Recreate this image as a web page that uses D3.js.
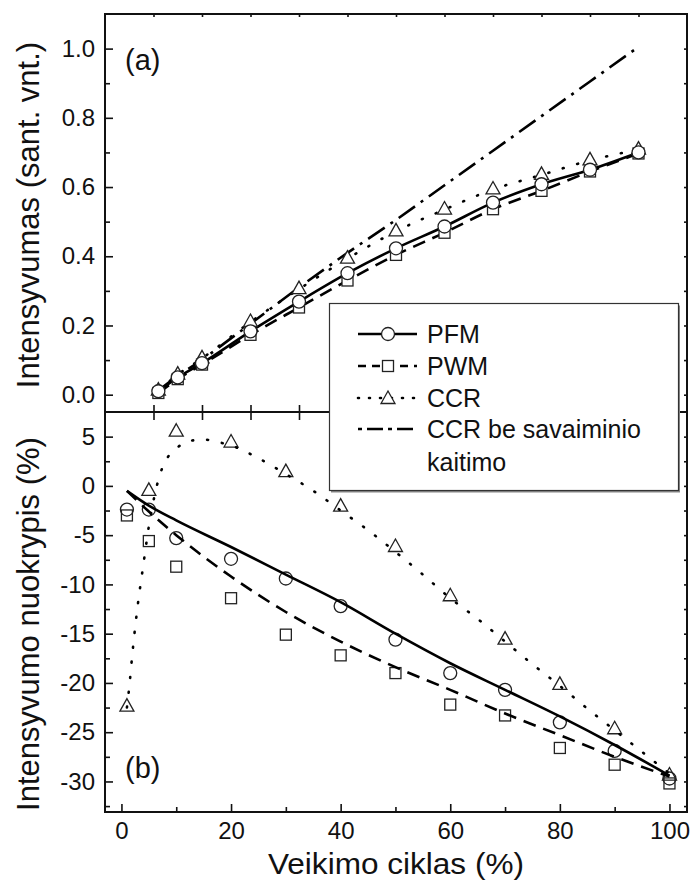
<!DOCTYPE html>
<html>
<head>
<meta charset="utf-8">
<script src="https://cdn.jsdelivr.net/npm/d3@7"></script>
<style>
  body { margin: 0; background: #fff; }
  text { font-family: "Liberation Sans", Arial, sans-serif; fill: #111; }
</style>
</head>
<body>
<svg width="694" height="887"></svg>
<script>
// panel (a) - intensity vs. cycle step
var aCycle = [1.1, 1.5, 2, 3, 4, 5, 6, 7, 8, 9, 10, 11]
var aPfm = [0.010, 0.050, 0.091, 0.183, 0.269, 0.351, 0.423, 0.486, 0.555, 0.608, 0.650, 0.700]
var aPwm = [0.005, 0.045, 0.087, 0.173, 0.252, 0.330, 0.404, 0.468, 0.536, 0.589, 0.645, 0.697]
var aCcr = [0.012, 0.058, 0.105, 0.210, 0.305, 0.393, 0.472, 0.535, 0.593, 0.635, 0.677, 0.708]
var aCcrNoHeat = [0.012, 0.055, 0.100, 0.205, 0.310, 0.410, 0.505, 0.605, 0.705, 0.805, 0.905, 1.005]

// panel (b) - deviation of intensity (%)
var bCycle = [1, 5, 10, 20, 30, 40, 50, 60, 70, 80, 90, 100]
var bPfm = [-2.4, -2.4, -5.3, -7.4, -9.4, -12.2, -15.6, -19.0, -20.7, -24.0, -26.9, -29.7]
var bPwm = [-3.0, -5.6, -8.2, -11.4, -15.1, -17.2, -19.0, -22.2, -23.3, -26.6, -28.3, -30.2]
var bCcr = [-22.4, -0.5, 5.5, 4.4, 1.4, -2.1, -6.2, -11.2, -15.6, -20.2, -24.7, -29.4]
var pfmFit = [-0.5, -2.0, -3.5, -6.2, -9.0, -11.8, -15.0, -18.0, -20.7, -23.4, -26.3, -29.4]
var pwmFit = [-0.5, -2.6, -5.0, -9.2, -12.8, -15.8, -18.4, -20.7, -23.1, -25.3, -27.5, -29.5]
var ccrFitX = [1, 1.5, 2, 3, 4, 5, 6, 7, 8, 9, 10, 12, 15, 18, 20, 25, 30, 35, 40, 45, 50, 55, 60, 65, 70, 75, 80, 85, 90, 95, 100]
var ccrFit = [-22.5, -20, -17, -12, -8, -4.1, -1.1, 1.1, 2.5, 3.3, 3.8, 4.5, 4.7, 4.4, 4.1, 2.8, 1.2, -0.5, -2.5, -4.5, -6.7, -9.0, -11.4, -13.5, -15.8, -18.1, -20.3, -22.6, -24.8, -27.0, -29.2]

var xTicks = [0, 20, 40, 60, 80, 100]
var aYTicks = [0.0, 0.2, 0.4, 0.6, 0.8, 1.0]
var bYTicks = [5, 0, -5, -10, -15, -20, -25, -30]

var legendNames = ["PFM", "PWM", "CCR", "CCR be savaiminio", "kaitimo"]

var svg = d3.select("svg")
var L = 105, R = 687, T = 14, M = 412, B = 812

var xA = d3.scaleLinear().domain([0, 12]).range([L, R])
var xB = d3.scaleLinear().domain([-3, 103.2]).range([L, R])
var yA = d3.scaleLinear().domain([-0.05, 1.1]).range([M, T])
var yB = d3.scaleLinear().domain([-33.1, 7.5]).range([B, M])

var SOLID = null, DASH = "13,8", DOT = "1,14", DASHDOT = "20,7,3,7"

function styleAxis(g) {
    g.select(".domain").remove()
    g.selectAll("line").attr("stroke", "#111").attr("stroke-width", 1.6)
    g.selectAll("text").style("font-size", "24px").attr("fill", "#111")
        .style("font-family", "'Liberation Sans', Arial, sans-serif")
}

// left axes
svg.append("g").attr("transform", "translate(" + L + ",0)")
    .call(d3.axisLeft(yA).tickValues(aYTicks).tickSize(-8).tickPadding(10).tickFormat(d3.format(".1f")))
    .call(styleAxis)
svg.append("g").attr("transform", "translate(" + L + ",0)")
    .call(d3.axisLeft(yA).tickValues([0.1, 0.3, 0.5, 0.7, 0.9]).tickSize(-5).tickFormat(""))
    .call(styleAxis)
svg.append("g").attr("transform", "translate(" + L + ",0)")
    .call(d3.axisLeft(yB).tickValues(bYTicks).tickSize(-8).tickPadding(10).tickFormat(d => String(d)))
    .call(styleAxis)
svg.append("g").attr("transform", "translate(" + L + ",0)")
    .call(d3.axisLeft(yB).tickValues([2.5, -2.5, -7.5, -12.5, -17.5, -22.5, -27.5, -32.5]).tickSize(-5).tickFormat(""))
    .call(styleAxis)

// right axes (short ticks)
svg.append("g").attr("transform", "translate(" + R + ",0)")
    .call(d3.axisRight(yA).tickValues(d3.range(0, 11).map(d => d / 10)).tickSize(-3).tickFormat(""))
    .call(styleAxis)
svg.append("g").attr("transform", "translate(" + R + ",0)")
    .call(d3.axisRight(yB).tickValues(d3.range(-32.5, 7.5, 2.5)).tickSize(-3).tickFormat(""))
    .call(styleAxis)

// bottom x axis
svg.append("g").attr("transform", "translate(0," + B + ")")
    .call(d3.axisBottom(xB).tickValues(xTicks).tickSize(-8).tickPadding(10))
    .call(styleAxis)
svg.append("g").attr("transform", "translate(0," + B + ")")
    .call(d3.axisBottom(xB).tickValues([10, 30, 50, 70, 90]).tickSize(-5).tickFormat(""))
    .call(styleAxis)

// panel (a) top and bottom ticks
svg.append("g").attr("transform", "translate(0," + T + ")")
    .call(d3.axisTop(xA).tickValues(d3.range(1, 12)).tickSize(-3).tickFormat(""))
    .call(styleAxis)
svg.append("g").attr("transform", "translate(0," + M + ")")
    .call(d3.axisBottom(xA).tickValues(d3.range(1, 12)).tickSize(8).tickFormat(""))
    .call(styleAxis)
svg.append("g").attr("transform", "translate(0," + M + ")")
    .call(d3.axisBottom(xA).tickValues(d3.range(1, 12)).tickSize(-7).tickFormat(""))
    .call(styleAxis)

// frames
svg.append("rect").attr("x", L).attr("y", T).attr("width", R - L).attr("height", B - T)
    .attr("fill", "none").attr("stroke", "#111").attr("stroke-width", 2)
svg.append("line").attr("x1", L).attr("x2", R).attr("y1", M).attr("y2", M)
    .attr("stroke", "#111").attr("stroke-width", 2)

// line helper
function drawLine(xs, ys, xs_, ys_, dash, curve) {
    var pts = xs.map((d, i) => [d, ys[i]])
    var line = d3.line().x(d => xs_(d[0])).y(d => ys_(d[1])).curve(curve || d3.curveMonotoneX)
    svg.append("path").datum(pts).attr("d", line)
        .attr("fill", "none").attr("stroke", "#000").attr("stroke-width", 2.6)
        .attr("stroke-dasharray", dash)
        .attr("stroke-linecap", dash === DOT ? "round" : "butt")
}

var triPath = "M0,-8L7,4.5L-7,4.5Z"
function drawMarkers(xs, ys, xs_, ys_, kind, fill) {
    var g = svg.append("g")
    xs.forEach(function(d, i) {
        var px = xs_(d), py = ys_(ys[i])
        var m
        if (kind === "circle") m = g.append("circle").attr("cx", px).attr("cy", py).attr("r", 6.5)
        else if (kind === "square") m = g.append("rect").attr("x", px - 5.5).attr("y", py - 5.5).attr("width", 11).attr("height", 11)
        else m = g.append("path").attr("d", triPath).attr("transform", "translate(" + px + "," + py + ")")
        m.attr("fill", fill).attr("stroke", "#222").attr("stroke-width", 1.3)
    })
}

// panel (a)
drawLine(aCycle, aCcrNoHeat, xA, yA, DASHDOT, d3.curveLinear)
drawLine(aCycle, aCcr, xA, yA, DOT)
drawLine(aCycle, aPwm, xA, yA, DASH)
drawLine(aCycle, aPfm, xA, yA, SOLID)
drawMarkers(aCycle, aCcr, xA, yA, "tri", "#fff")
drawMarkers(aCycle, aPwm, xA, yA, "square", "#fff")
drawMarkers(aCycle, aPfm, xA, yA, "circle", "#fff")

// panel (b)
drawMarkers(bCycle, bCcr, xB, yB, "tri", "none")
drawMarkers(bCycle, bPwm, xB, yB, "square", "none")
drawMarkers(bCycle, bPfm, xB, yB, "circle", "none")
drawLine(ccrFitX, ccrFit, xB, yB, DOT)
drawLine(bCycle, pwmFit, xB, yB, DASH)
drawLine(bCycle, pfmFit, xB, yB, SOLID)

// legend
var lg = svg.append("g")
lg.append("rect").attr("x", 331).attr("y", 305.5).attr("width", 349).attr("height", 187)
    .attr("fill", "#888")
lg.append("rect").attr("x", 329.5).attr("y", 303.5).attr("width", 349).attr("height", 187)
    .attr("fill", "#fff").attr("stroke", "#333").attr("stroke-width", 1.2)

var legRows = [
    { name: legendNames[0], y: 334, dash: SOLID, mark: "circle" },
    { name: legendNames[1], y: 366, dash: DASH, mark: "square" },
    { name: legendNames[2], y: 398, dash: DOT, mark: "tri" },
    { name: legendNames[3], y: 429, dash: DASHDOT, mark: null }
]
legRows.forEach(function(r) {
    lg.append("line").attr("x1", 358).attr("x2", 417).attr("y1", r.y).attr("y2", r.y)
        .attr("stroke", "#000").attr("stroke-width", 2.6)
        .attr("stroke-dasharray", r.dash === DASH ? "8,6" : r.dash === DOT ? "1,10" : r.dash === DASHDOT ? "4,5,16,5" : null)
        .attr("stroke-linecap", r.dash === DOT ? "round" : "butt")
    if (r.mark === "circle") lg.append("circle").attr("cx", 388).attr("cy", r.y).attr("r", 6.5)
        .attr("fill", "#fff").attr("stroke", "#222").attr("stroke-width", 1.3)
    if (r.mark === "square") lg.append("rect").attr("x", 382.5).attr("y", r.y - 5.5).attr("width", 11).attr("height", 11)
        .attr("fill", "#fff").attr("stroke", "#222").attr("stroke-width", 1.3)
    if (r.mark === "tri") lg.append("path").attr("d", triPath).attr("transform", "translate(388," + (r.y + 1) + ")")
        .attr("fill", "#fff").attr("stroke", "#222").attr("stroke-width", 1.3)
    lg.append("text").attr("x", 427).attr("y", r.y + 9).style("font-size", "25px").text(r.name)
})
lg.append("text").attr("x", 427).attr("y", 471).style("font-size", "25px").text(legendNames[4])

// panel labels
svg.append("text").attr("x", 125).attr("y", 70).style("font-size", "29px").text("(a)")
svg.append("text").attr("x", 125).attr("y", 778).style("font-size", "29px").text("(b)")

// axis titles
svg.append("text").attr("x", 396).attr("y", 874).attr("text-anchor", "middle")
    .attr("textLength", 256).attr("lengthAdjust", "spacingAndGlyphs")
    .style("font-size", "29px").text("Veikimo ciklas (%)")
svg.append("text").attr("transform", "translate(39,215) rotate(-90)").attr("text-anchor", "middle")
    .style("font-size", "31px").text("Intensyvumas (sant. vnt.)")
svg.append("text").attr("transform", "translate(39,624) rotate(-90)").attr("text-anchor", "middle")
    .style("font-size", "31px").text("Intensyvumo nuokrypis (%)")
</script>
</body>
</html>
